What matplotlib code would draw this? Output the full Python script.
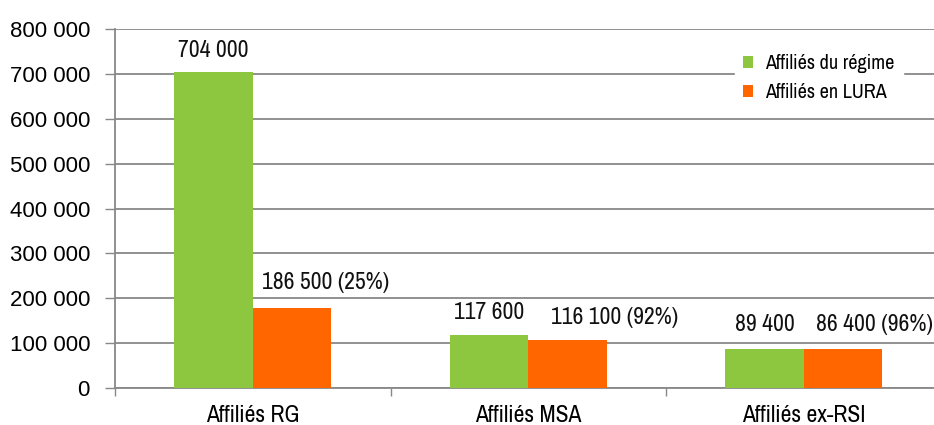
import matplotlib
matplotlib.use("Agg")
import matplotlib.pyplot as plt
import numpy as np

categories = ["Affiliés RG", "Affiliés MSA", "Affiliés ex-RSI"]
series_names = ["Affiliés du régime", "Affiliés en LURA"]

# bar heights as drawn in the picture
regime = [704000, 117600, 88000]
lura = [178000, 107500, 88000]

# value labels written over the bars
regime_labels = ["704 000", "117 600", "89 400"]
lura_labels = ["186 500 (25%)", "116 100 (92%)", "86 400 (96%)"]

yticks = [0, 100000, 200000, 300000, 400000, 500000, 600000, 700000, 800000]

GREEN = "#8DC63F"
ORANGE = "#FF6600"
GRID = "#888888"
NARROW = "Archivo Narrow"
REGULAR = "Liberation Sans"

fig = plt.figure(figsize=(9.34, 4.25), dpi=100)
ax = fig.add_axes([115 / 934, 1 - 388.3 / 425, 826.5 / 934, (388.3 - 28.7) / 425])

x = np.arange(len(categories))
w = 0.285
ax.bar(x - w / 2, regime, w, color=GREEN, label=series_names[0], zorder=3)
ax.bar(x + w / 2, lura, w, color=ORANGE, label=series_names[1], zorder=3)

# label placement (layout only)
regime_lab_y = [752000, 169000, 141000]
lura_lab_x = [x[0] + 0.265, x[1] + 0.315, x[2] + 0.255]
lura_lab_y = [235000, 158000, 141000]

for i in range(len(categories)):
    ax.text(x[i] - w / 2, regime_lab_y[i], regime_labels[i], ha="center", va="center",
            fontsize=17, family=NARROW, color="#111111")
    ax.text(lura_lab_x[i], lura_lab_y[i], lura_labels[i], ha="center", va="center",
            fontsize=17, family=NARROW, color="#111111")

ax.set_xlim(-0.5, 2.5)
ax.set_ylim(0, 800000)
ax.set_yticks(yticks)
ax.set_yticklabels([f"{v:,}".replace(",", " ") for v in yticks], family=REGULAR, fontsize=16)
ax.yaxis.grid(True, color=GRID, linewidth=1.3, zorder=0)
ax.tick_params(axis="y", length=7, width=1, color=GRID, pad=11)

ax.set_xticks([-0.5, 0.5, 1.5, 2.5])
ax.set_xticklabels([])
ax.set_xticks(x, minor=True)
ax.set_xticklabels(categories, minor=True, family=NARROW, fontsize=17)
ax.tick_params(axis="x", which="major", length=6, width=1, color=GRID, direction="out")
ax.tick_params(axis="x", which="minor", length=0, pad=12)

for s in ["top", "right"]:
    ax.spines[s].set_visible(False)
for s in ["left", "bottom"]:
    ax.spines[s].set_color(GRID)
    ax.spines[s].set_linewidth(1.3)

leg = ax.legend(loc="upper left", bbox_to_anchor=(735 / 934, 1 - 46 / 425),
                bbox_transform=fig.transFigure, frameon=True, fancybox=False,
                borderaxespad=0, handlelength=0.5, handleheight=0.5, handletextpad=0.6,
                labelspacing=0.5, borderpad=0.4, prop={"family": NARROW, "size": 14.5})
leg.get_frame().set_edgecolor("white")
leg.get_frame().set_facecolor("white")
leg.get_frame().set_alpha(1)
leg.set_zorder(5)

fig.savefig("out.png", dpi=100)
